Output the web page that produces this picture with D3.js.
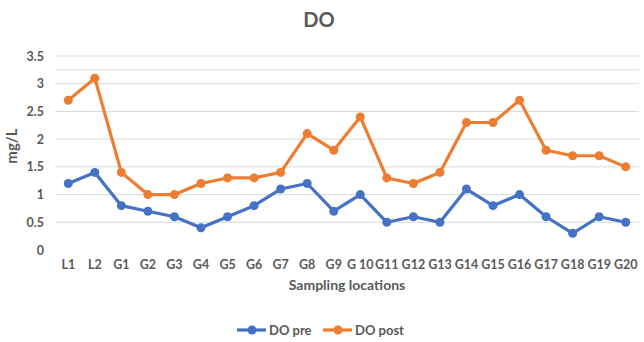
<!DOCTYPE html>
<meta charset="utf-8">
<style>
  body { margin: 0; background: #fff; }
  text { font-family: Lato, "Open Sans", sans-serif; fill: #595959; }
</style>
<script src="https://d3js.org/d3.v7.min.js"></script>
<div id="chart"></div>
<script>
  // data
  var locations = ["L1","L2","G1","G2","G3","G4","G5","G6","G7","G8","G9","G 10",
                   "G11","G12","G13","G14","G15","G16","G17","G18","G19","G20"];
  var doPre  = [1.2,1.4,0.8,0.7,0.6,0.4,0.6,0.8,1.1,1.2,0.7,1.0,0.5,0.6,0.5,1.1,0.8,1.0,0.6,0.3,0.6,0.5];
  var doPost = [2.7,3.1,1.4,1.0,1.0,1.2,1.3,1.3,1.4,2.1,1.8,2.4,1.3,1.2,1.4,2.3,2.3,2.7,1.8,1.7,1.7,1.5];
  var yTicks = [0,0.5,1,1.5,2,2.5,3,3.5];
  var series = [
    {name: "DO pre",  values: doPre,  color: "#4472C4"},
    {name: "DO post", values: doPost, color: "#ED7D31"}
  ];

  var W = 644, H = 342;
  var margin = {top: 56, right: 5, bottom: 92, left: 55};
  var width = W - margin.left - margin.right,
      height = H - margin.top - margin.bottom;

  var svg = d3.select("#chart").append("svg")
      .attr("width", W).attr("height", H);

  var g = svg.append("g")
      .attr("transform", "translate(" + margin.left + "," + margin.top + ")");

  var x = d3.scaleBand().domain(locations).range([0, width]);
  var y = d3.scaleLinear().domain([0, 3.5]).range([height, 0]);

  // gridlines (the source image also has a faint line at 3.25)
  g.append("g").selectAll("line")
    .data(yTicks.concat([3.25]).filter(function(d){ return d > 0; }))
    .enter().append("line")
      .attr("x1", 0).attr("x2", width)
      .attr("y1", function(d){ return y(d); })
      .attr("y2", function(d){ return y(d); })
      .attr("stroke", "#d9d9d9").attr("stroke-width", 1);

  // y axis labels
  var yAxis = g.append("g")
      .call(d3.axisLeft(y).tickValues(yTicks).tickSize(0).tickPadding(11)
        .tickFormat(function(d){ return d; }));
  yAxis.select(".domain").remove();
  yAxis.selectAll("text")
      .style("font-family", "Lato, sans-serif")
      .style("font-size", "12.5px").style("font-weight", "bold").attr("fill", "#595959");

  // x axis labels
  var xAxis = g.append("g")
      .attr("transform", "translate(0," + height + ")")
      .call(d3.axisBottom(x).tickSize(0).tickPadding(10));
  xAxis.select(".domain").remove();
  xAxis.selectAll("text")
      .style("font-family", "Lato, sans-serif")
      .style("font-size", "12.5px").style("font-weight", "bold").attr("fill", "#595959");

  var line = d3.line()
      .x(function(d, i){ return x(locations[i]) + x.bandwidth() / 2; })
      .y(function(d){ return y(d); });

  series.forEach(function(s) {
    g.append("path")
      .datum(s.values)
      .attr("fill", "none")
      .attr("stroke", s.color)
      .attr("stroke-width", 3.2)
      .attr("stroke-linejoin", "round")
      .attr("d", line);
    g.selectAll(null)
      .data(s.values)
      .enter().append("circle")
        .attr("cx", function(d, i){ return x(locations[i]) + x.bandwidth() / 2; })
        .attr("cy", function(d){ return y(d); })
        .attr("r", 4.5)
        .attr("fill", s.color);
  });

  // title
  svg.append("text")
    .attr("x", 319).attr("y", 27)
    .attr("text-anchor", "middle")
    .style("font-size", "20px").style("font-weight", "bold")
    .text("DO");

  // axis titles
  svg.append("text")
    .attr("transform", "translate(17,146) rotate(-90)")
    .attr("text-anchor", "middle")
    .style("font-size", "15px").style("font-weight", "bold")
    .text("mg/L");

  svg.append("text")
    .attr("x", 347).attr("y", 290)
    .attr("text-anchor", "middle")
    .style("font-size", "14px").style("font-weight", "bold")
    .text("Sampling locations");

  // legend
  var legendX = [237, 323];
  var legend = svg.append("g");
  series.forEach(function(s, i) {
    var lg = legend.append("g").attr("transform", "translate(" + legendX[i] + ",330)");
    lg.append("line").attr("x1", 0).attr("x2", 29).attr("y1", 0).attr("y2", 0)
      .attr("stroke", s.color).attr("stroke-width", 3.2);
    lg.append("circle").attr("cx", 15).attr("cy", 0).attr("r", 4.5).attr("fill", s.color);
    lg.append("text").attr("x", 32).attr("y", 0).attr("dy", "0.35em")
      .style("font-size", "13px").style("font-weight", "bold")
      .text(s.name);
  });
</script>
